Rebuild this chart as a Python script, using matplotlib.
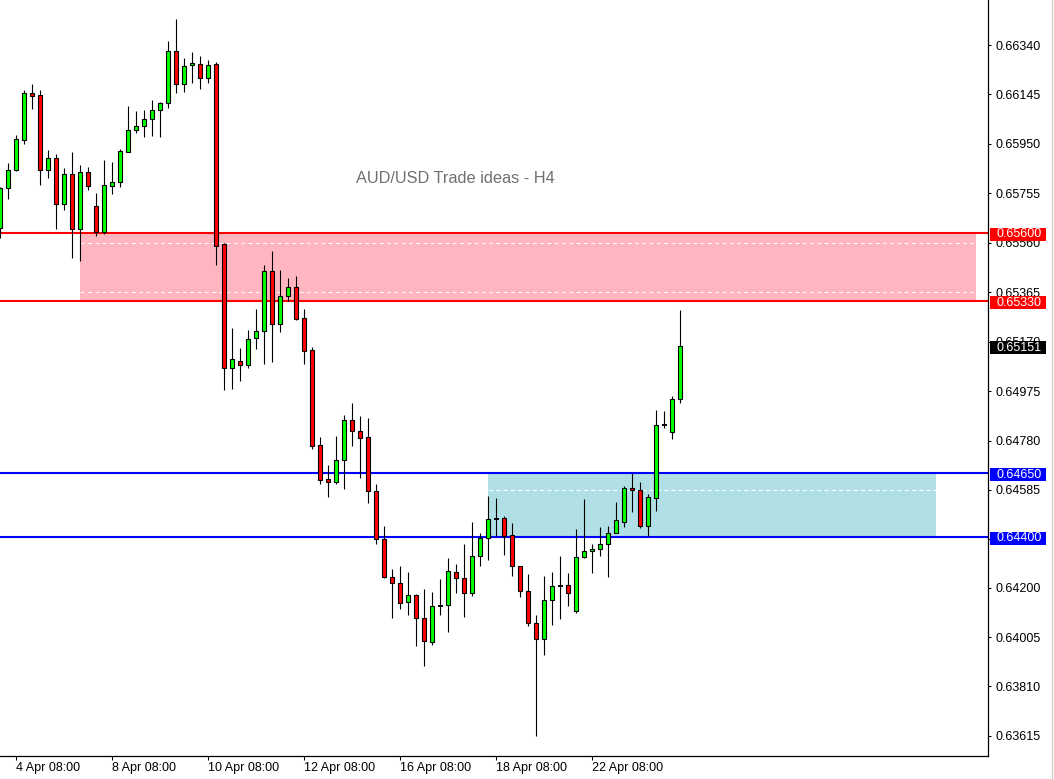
import matplotlib
matplotlib.use("Agg")
import matplotlib.pyplot as plt
import matplotlib.transforms as mtransforms
from matplotlib.lines import Line2D
from matplotlib.patches import Rectangle
import pandas as pd

# AUD/USD H4 candles
opens = [0.65618, 0.65775, 0.65848, 0.65964, 0.66150, 0.66142, 0.65848, 0.65893, 0.65714, 0.65830,
         0.65616, 0.65838, 0.65704, 0.65604, 0.65785, 0.65801, 0.65919, 0.66004, 0.66019, 0.66047,
         0.66082, 0.66110, 0.66315, 0.66185, 0.66260, 0.66264, 0.66209, 0.66264, 0.65554, 0.65065,
         0.65092, 0.65077, 0.65183, 0.65211, 0.65448, 0.65238, 0.65349, 0.65384, 0.65262, 0.65136,
         0.64761, 0.64627, 0.64615, 0.64702, 0.64860, 0.64816, 0.64793, 0.64580, 0.64390, 0.64241,
         0.64217, 0.64142, 0.64170, 0.64079, 0.63984, 0.64127, 0.64130, 0.64260, 0.64237, 0.64177,
         0.64324, 0.64395, 0.64471, 0.64473, 0.64406, 0.64284, 0.64185, 0.64059, 0.63996, 0.64150,
         0.64206, 0.64209, 0.64107, 0.64320, 0.64343, 0.64351, 0.64371, 0.64414, 0.64458, 0.64592,
         0.64584, 0.64442, 0.64552, 0.64842, 0.64812, 0.64943]
highs = [0.65778, 0.65875, 0.65985, 0.66163, 0.66186, 0.66163, 0.65926, 0.65909, 0.65854, 0.65917,
         0.65867, 0.65859, 0.65756, 0.65885, 0.65877, 0.65930, 0.66098, 0.66080, 0.66082, 0.66122,
         0.66114, 0.66356, 0.66443, 0.66288, 0.66311, 0.66296, 0.66280, 0.66272, 0.65559, 0.65224,
         0.65145, 0.65215, 0.65298, 0.65471, 0.65526, 0.65451, 0.65420, 0.65428, 0.65298, 0.65148,
         0.64793, 0.64682, 0.64797, 0.64880, 0.64927, 0.64876, 0.64868, 0.64607, 0.64442, 0.64272,
         0.64284, 0.64260, 0.64174, 0.64193, 0.64182, 0.64233, 0.64316, 0.64292, 0.64371, 0.64459,
         0.64414, 0.64562, 0.64555, 0.64481, 0.64454, 0.64284, 0.64252, 0.64091, 0.64245, 0.64260,
         0.64324, 0.64256, 0.64430, 0.64548, 0.64371, 0.64438, 0.64442, 0.64536, 0.64600, 0.64651,
         0.64615, 0.64568, 0.64899, 0.64895, 0.64954, 0.65294]
lows = [0.65579, 0.65733, 0.65843, 0.65951, 0.66088, 0.65788, 0.65817, 0.65614, 0.65689, 0.65501,
        0.65488, 0.65769, 0.65588, 0.65596, 0.65754, 0.65780, 0.65919, 0.65993, 0.65977, 0.65982,
        0.65977, 0.66093, 0.66151, 0.66156, 0.66190, 0.66167, 0.66190, 0.65472, 0.64981, 0.64984,
        0.65016, 0.65065, 0.65140, 0.65083, 0.65091, 0.65207, 0.65329, 0.65254, 0.65083, 0.64748,
        0.64607, 0.64556, 0.64607, 0.64588, 0.64757, 0.64631, 0.64532, 0.64371, 0.64237, 0.64079,
        0.64114, 0.64091, 0.63969, 0.63890, 0.63973, 0.64091, 0.64024, 0.64178, 0.64083, 0.64165,
        0.64284, 0.64310, 0.64402, 0.64330, 0.64247, 0.64162, 0.64047, 0.63616, 0.63933, 0.64051,
        0.64075, 0.64126, 0.64099, 0.64316, 0.64256, 0.64324, 0.64241, 0.64414, 0.64438, 0.64500,
        0.64436, 0.64402, 0.64501, 0.64828, 0.64785, 0.64927]
closes = [0.65776, 0.65846, 0.65968, 0.66150, 0.66140, 0.65848, 0.65893, 0.65714, 0.65830, 0.65616,
          0.65838, 0.65783, 0.65604, 0.65787, 0.65799, 0.65921, 0.66004, 0.66019, 0.66047, 0.66082,
          0.66110, 0.66315, 0.66185, 0.66256, 0.66268, 0.66209, 0.66260, 0.65548, 0.65065, 0.65100,
          0.65077, 0.65179, 0.65211, 0.65448, 0.65238, 0.65349, 0.65384, 0.65258, 0.65132, 0.64760,
          0.64623, 0.64615, 0.64702, 0.64860, 0.64816, 0.64789, 0.64580, 0.64390, 0.64241, 0.64217,
          0.64138, 0.64170, 0.64079, 0.63988, 0.64126, 0.64127, 0.64264, 0.64237, 0.64178, 0.64324,
          0.64395, 0.64469, 0.64471, 0.64402, 0.64284, 0.64185, 0.64059, 0.63996, 0.64150, 0.64205,
          0.64206, 0.64178, 0.64320, 0.64343, 0.64351, 0.64371, 0.64414, 0.64465, 0.64592, 0.64584,
          0.64442, 0.64556, 0.64840, 0.64842, 0.64943, 0.65151]

sell_zone = [0.65600, 0.65330]          # red lines, pink box
buy_zone = [0.64650, 0.64400]           # blue lines, light blue box
sell_zone_bars = [10, 122]              # box extent in bars (runs into the future)
buy_zone_bars = [61, 117]
last_price = 0.65151

price_ticks = [0.66340, 0.66145, 0.65950, 0.65755, 0.65560, 0.65365, 0.65170, 0.64975,
               0.64780, 0.64585, 0.64390, 0.64200, 0.64005, 0.63810, 0.63615]
price_labels = ["0.66340", "0.66145", "0.65950", "0.65755", "0.65560", "0.65365", "0.65170",
                "0.64975", "0.64780", "0.64585", "", "0.64200", "0.64005", "0.63810", "0.63615"]
date_labels = ["4 Apr 08:00", "8 Apr 08:00", "10 Apr 08:00", "12 Apr 08:00",
               "16 Apr 08:00", "18 Apr 08:00", "22 Apr 08:00"]
title = "AUD/USD Trade ideas - H4"

plt.rcParams["font.family"] = ["Liberation Sans", "DejaVu Sans"]

# bar times: six H4 bars per trading day
times = [d + pd.Timedelta(hours=4 * k)
         for d in pd.bdate_range("2024-04-04", periods=15) for k in range(6)][:len(opens)]
stamps = [f"{t.day} {t:%b %H:%M}" for t in times]
date_pos = [stamps.index(s) for s in date_labels]

W, H = 1054, 779
fig = plt.figure(figsize=(W / 100, H / 100), dpi=100)
ax = fig.add_axes([0, 23 / H, 988 / W, 756 / H])
ax.set_xlim(-0.04, 123.46)
ax.set_ylim(0.635358, 0.665175)
px = (0.665175 - 0.635358) / 756        # price per pixel

# zones
ax.add_patch(Rectangle((sell_zone_bars[0], sell_zone[1]), sell_zone_bars[1] - sell_zone_bars[0],
                       sell_zone[0] - sell_zone[1], facecolor="#FFB6C1", edgecolor="none", zorder=1))
ax.add_patch(Rectangle((buy_zone_bars[0], buy_zone[1]), buy_zone_bars[1] - buy_zone_bars[0],
                       buy_zone[0] - buy_zone[1], facecolor="#B0DFE5", edgecolor="none", zorder=1))

# white dashed grid only shows over the zones
for t in price_ticks:
    ax.axhline(t, color="white", lw=0.75, ls=(0, (4, 3)), zorder=1.5)

for lvl in sell_zone:
    ax.axhline(lvl, color="#FF0000", lw=1.5, zorder=2)
for lvl in buy_zone:
    ax.axhline(lvl, color="#0000FF", lw=1.5, zorder=2)

# candles
for i, (o, h, l, c) in enumerate(zip(opens, highs, lows, closes)):
    ax.vlines(i, l, h, color="black", lw=0.8, zorder=3)
    if abs(c - o) < 1e-7:
        ax.hlines(o, i - 0.3, i + 0.3, color="black", lw=1.4, zorder=4)
    else:
        ax.add_patch(Rectangle((i - 0.25, min(o, c)), 0.5, abs(c - o),
                               facecolor="#00FF00" if c > o else "#FF0000",
                               edgecolor="black", lw=0.8, zorder=4))

ax.text(455 / 988, 1 - 182.7 / 756, title, transform=ax.transAxes, ha="center",
        va="baseline", fontsize=11.8, color="#707070")

# axes styling
for side in ("top", "left"):
    ax.spines[side].set_visible(False)
for side in ("right", "bottom"):
    ax.spines[side].set_linewidth(0.9)
ax.yaxis.tick_right()
ax.set_yticks(price_ticks)
ax.set_yticklabels(price_labels)
ax.tick_params(axis="y", length=2.2, width=0.75, pad=3.5, labelsize=9)
ax.set_xticks(date_pos)
ax.set_xticklabels(date_labels, ha="left")
ax.tick_params(axis="x", length=2.9, width=0.75, pad=1.2, labelsize=9)

# price tags on the right scale
trans = mtransforms.blended_transform_factory(ax.transAxes, ax.transData)
tags = [(sell_zone[0], "#FF0000"), (sell_zone[1], "#FF0000"), (last_price, "black"),
        (buy_zone[0], "#0000FF"), (buy_zone[1], "#0000FF")]
for lvl, col in tags:
    ax.add_patch(Rectangle((990 / 988, lvl - 8 * px), 56 / 988, 13 * px, transform=trans,
                           facecolor=col, edgecolor="none", clip_on=False, zorder=10))
    ax.text(996 / 988, lvl - 1.5 * px, f"{lvl:.5f}", transform=trans, ha="left",
            va="center", fontsize=9, color="white", zorder=11, clip_on=False)

fig.add_artist(Line2D([1051.5 / W] * 2, [0, 1], color="#C8C8C8", lw=0.8))

fig.savefig("out.png", dpi=100)
